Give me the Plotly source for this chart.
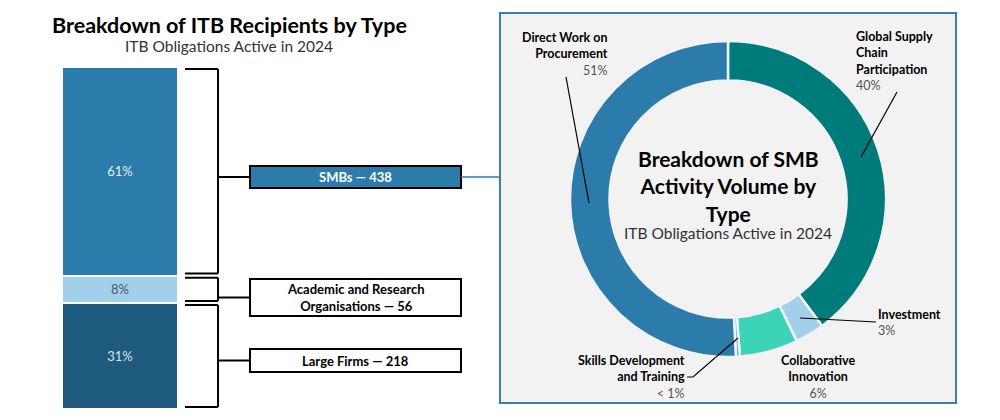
import plotly.graph_objects as go

# left: recipients by type (stacked from bottom)
recipientTypes = ["Large Firms", "Academic and Research Organisations", "SMBs"]
recipientShares = [31, 8, 61]
recipientCounts = [218, 56, 438]
recipientColors = ["#1F5B7F", "#A2D0EA", "#2B7BAB"]
recipientTextColors = ["#D8E4EC", "#4A5A66", "#E4EEF5"]

# right: SMB activity volume by type (clockwise from 12 o'clock)
activityTypes = ["Global Supply Chain Participation", "Investment", "Collaborative Innovation",
                 "Skills Development and Training", "Direct Work on Procurement"]
activityShares = [40, 3, 6, 0.4, 51]
activityLabels = ["40%", "3%", "6%", "< 1%", "51%"]
activityColors = ["#007B7B", "#A2D0EA", "#3DD3B8", "#5FB8C8", "#2B7BAB"]

# page has an 8px body margin, so the figure is shrunk and offset to line up with the window
OFF = 8
W, H = 984, 404
FONT = "Lato"


def px(x):
    return (x - OFF) / W


def py(y):
    return 1 - (y - OFF) / H


fig = go.Figure()

# stacked bar
for name, share, color, tcolor in zip(recipientTypes, recipientShares, recipientColors, recipientTextColors):
    fig.add_trace(go.Bar(x=[120], y=[share], width=116, name=name, marker={"color": color, "line": {"color": "white", "width": 2}},
                         text=[f"{share}%"], textposition="inside", insidetextanchor="middle",
                         textfont={"color": tcolor, "size": 13, "family": FONT}, hoverinfo="skip"))

# donut
fig.add_trace(go.Pie(labels=activityTypes, values=activityShares, hole=0.75, sort=False, direction="clockwise", rotation=0,
                     marker={"colors": activityColors, "line": {"color": "#F2F2F2", "width": 2.5}},
                     textinfo="none", hoverinfo="skip", showlegend=False,
                     domain={"x": [px(570), px(886)], "y": [py(357), py(41)]}))

shapes = []
annotations = []


def note(x, y, text, size, color="black", xanchor="center", align="center"):
    annotations.append({"xref": "paper", "yref": "paper", "x": px(x), "y": py(y), "xanchor": xanchor, "yanchor": "middle",
                        "align": align, "text": text, "showarrow": False,
                        "font": {"size": size, "color": color, "family": FONT}})


# right panel frame
shapes.append({"type": "rect", "xref": "paper", "yref": "paper", "x0": px(500), "x1": px(956), "y0": py(403), "y1": py(13),
               "fillcolor": "#F2F2F2", "line": {"color": "#3E7FAA", "width": 2}, "layer": "below"})

# brackets and label boxes
boxTops = [349, 279, 166]
boxBottoms = [372, 316, 188]
boxFills = ["white", "white", "#2B7BAB"]
boxTextColors = ["black", "black", "white"]
boxTexts = ["Large Firms — 218", "Academic and Research<br>Organisations — 56", "SMBs — 438"]
base = 0
for i, share in enumerate(recipientShares):
    lo, hi = base + 0.6, base + share - 0.6
    base += share
    for yv in (lo, hi):
        shapes.append({"type": "line", "xref": "x", "yref": "y", "x0": 185, "x1": 218, "y0": yv, "y1": yv,
                       "line": {"color": "black", "width": 2}})
    shapes.append({"type": "line", "xref": "x", "yref": "y", "x0": 218, "x1": 218, "y0": lo, "y1": hi,
                   "line": {"color": "black", "width": 2}})
    midPx = (boxTops[i] + boxBottoms[i]) / 2
    shapes.append({"type": "line", "xref": "paper", "yref": "paper", "x0": px(218), "x1": px(250),
                   "y0": py(midPx), "y1": py(midPx), "line": {"color": "black", "width": 2}})
    shapes.append({"type": "rect", "xref": "paper", "yref": "paper", "x0": px(250), "x1": px(461),
                   "y0": py(boxBottoms[i]), "y1": py(boxTops[i]), "fillcolor": boxFills[i], "line": {"color": "black", "width": 2}})
    note(355.5, midPx, f"<b>{boxTexts[i]}</b>", 13, boxTextColors[i])

# SMB box to panel connector
shapes.append({"type": "line", "xref": "paper", "yref": "paper", "x0": px(461), "x1": px(500), "y0": py(177), "y1": py(177),
               "line": {"color": "#2B7BAB", "width": 1.5}})

# leader lines
leaders = [
    [(566, 77), (589, 203)],
    [(897, 92), (861, 157)],
    [(800, 318), (876, 322)],
    [(738, 338), (693, 377), (687, 377)],
]
for pts in leaders:
    path = "M " + " L ".join(f"{px(x)} {py(y)}" for x, y in pts)
    shapes.append({"type": "path", "xref": "paper", "yref": "paper", "path": path, "line": {"color": "black", "width": 1.2}})

# titles
note(229, 25, "<b>Breakdown of ITB Recipients by Type</b>", 21.5)
note(229, 46, "ITB Obligations Active in 2024", 15.5, "#333333")
note(728, 186, "<b>Breakdown of SMB<br>Activity Volume by<br>Type</b>", 21)
note(728, 233, "ITB Obligations Active in 2024", 15.5, "#333333")

# slice labels
sliceLabels = [
    ("<b>Global Supply<br>Chain<br>Participation</b>", activityLabels[0], 854, 61, "left"),
    ("<b>Investment</b>", activityLabels[1], 876, 322, "left"),
    ("<b>Collaborative<br>Innovation</b>", activityLabels[2], 818, 377, "center"),
    ("<b>Skills Development<br>and Training</b>", activityLabels[3], 687, 377, "right"),
    ("<b>Direct Work on<br>Procurement</b>", activityLabels[4], 610, 54, "right"),
]
for name, pct, x, y, align in sliceLabels:
    note(x, y, f"{name}<br><span style='color:#555555'>{pct}</span>", 12.5, "black", align, align)

fig.update_layout(
    width=W, height=H, barmode="stack", showlegend=False, margin={"l": 0, "r": 0, "t": 0, "b": 0},
    paper_bgcolor="white", plot_bgcolor="rgba(0,0,0,0)",
    xaxis={"domain": [0, 1], "range": [OFF, OFF + W], "visible": False, "fixedrange": True},
    yaxis={"domain": [py(409), py(67)], "range": [0, 100], "visible": False, "fixedrange": True},
    shapes=shapes, annotations=annotations,
)

fig.write_html("out.html")
